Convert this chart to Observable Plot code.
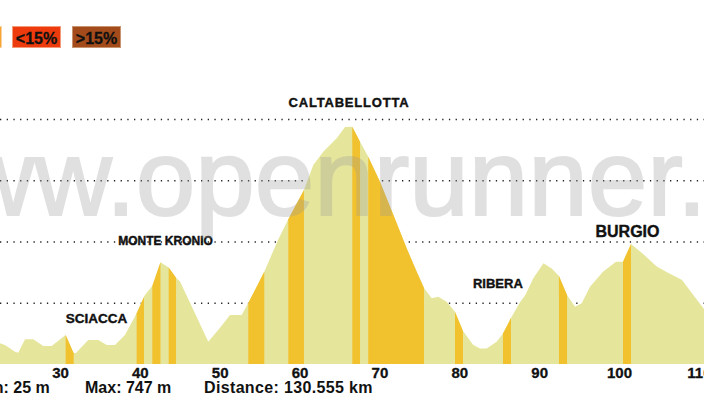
<!DOCTYPE html>
<html><head><meta charset="utf-8">
<script src="https://cdn.jsdelivr.net/npm/d3@7"></script>
<script src="https://cdn.jsdelivr.net/npm/@observablehq/plot@0.6"></script>
<style>
body{margin:0;background:#fff;}
#chart{position:relative;width:704px;height:399px;overflow:hidden;background:#fff;}
</style></head><body><div id="chart"></div>
<script>
// elevation profile (km, m)
const profileKm = [22.24,22.49,23.11,24.37,24.78,25.62,26.66,27.91,28.96,30.71,31.72,32.00,33.54,34.80,35.85,36.89,38.14,39.60,40.52,40.64,41.56,42.58,43.61,44.53,45.03,48.57,50.04,51.29,52.75,53.58,55.58,57.30,58.59,60.55,61.72,62.97,64.65,65.69,66.60,67.57,68.60,70.07,71.74,73.41,74.67,75.58,76.54,77.37,78.42,79.46,80.46,81.75,82.59,83.43,84.68,85.47,86.47,87.60,88.27,89.27,90.54,91.57,92.48,93.49,94.49,95.33,96.37,97.99,99.62,100.50,101.50,102.94,104.72,106.01,107.89,109.39,110.64,111.89];
const profileEle = [72,68,62,40,37,81,81,59,59,95,35,36,78,78,62,62,95,166,219,225,255,332,315,282,269,73,118,160,160,199,301,405,473,568,650,693,737,774,775,726,677,595,487,378,301,248,215,220,203,171,108,62,51,51,73,100,150,202,225,280,329,312,287,225,187,198,252,301,334,334,392,361,318,300,274,222,180,134];
// steep segments (km)
const bandStart = [30.71,39.60,41.56,43.61,53.58,58.59,66.60,68.60,79.46,85.47,92.48,100.50];
const bandEnd   = [31.72,40.52,42.58,44.53,55.58,60.55,67.57,75.58,80.46,86.47,93.49,101.50];
const gridEle = [200,400,600,800];
const tickKm = [30,40,50,60,70,80,90,100,110];
const placeName = ["SCIACCA","MONTE KRONIO","CALTABELLOTTA","RIBERA","BURGIO"];
const placeKm = [34.50,43.15,66.12,84.77,101.0];
const placeEle = [134,389,842,251,415];
const placeSize = [13.5,12,13,13,16];
const legendLabels = ["<15%", ">15%"];
const legendColors = ["#ee3b0d", "#a34b1b"];
const statLabels = ["Min: 25 m", "Max: 747 m", "Distance: 130.555 km"];
const watermark = "www.openrunner.com";

const profile = profileKm.map((km, i) => ({km, ele: profileEle[i]}));
const bandOf = d => { for (let i = 0; i < bandStart.length; i++) if (d.km >= bandStart[i] && d.km <= bandEnd[i]) return i; return null; };
const places = placeName.map((name, i) => ({name, km: placeKm[i], ele: placeEle[i], size: placeSize[i]}));

const FONT = "'Liberation Sans', Arial, sans-serif";
const svg = Plot.plot({
  width: 704, height: 399,
  marginLeft: 0, marginRight: 0, marginTop: 119, marginBottom: 35,
  style: {fontFamily: FONT, background: "#fff", overflow: "visible"},
  x: {domain: [22.49, 110.64], axis: null},
  y: {domain: [0, 800], axis: null},
  marks: [
    Plot.ruleY(gridEle, {stroke: "#222", strokeWidth: 1.3, strokeDasharray: "1.3,5.4"}),
    Plot.areaY(profile, {x: "km", y: "ele", fill: "#e5e59b", clip: true}),
    Plot.areaY(profile, {filter: d => bandOf(d) !== null, x: "km", y: "ele", z: d => bandOf(d), fill: "#f2c12e", clip: true}),
    Plot.text(places, {x: "km", y: "ele", text: "name", fontSize: "size", fontWeight: "bold", lineAnchor: "bottom", fill: "#111", stroke: "#111", strokeWidth: 0.4}),
    Plot.text(tickKm, {x: d => d, frameAnchor: "bottom", dy: 13.5, text: d => String(d), lineAnchor: "bottom", fontSize: 15, fontWeight: "bold", fill: "#111", stroke: "#111", strokeWidth: 0.3})
  ]
});
const root = d3.select(svg);
root.selectAll("text").filter(function() { return this.textContent === "CALTABELLOTTA"; }).style("letter-spacing", "0.8px");
// watermark
root.append("text").attr("x", -120).attr("y", 215).attr("text-anchor", "start").attr("font-family", FONT).attr("font-size", 107)
  .attr("fill", "#9a9a9a").attr("stroke", "#9a9a9a").attr("stroke-width", 2).attr("opacity", 0.3).text(watermark);
// legend
root.append("rect").attr("x", -46.5).attr("y", 26.5).attr("width", 48).attr("height", 21).attr("fill", "#f7a530").attr("stroke", "#fbd3a0");
legendLabels.forEach((t, i) => {
  const x0 = 12.5 + i * 60;
  root.append("rect").attr("x", x0).attr("y", 26.5).attr("width", 48).attr("height", 21)
    .attr("fill", legendColors[i]).attr("stroke", i ? "#c8946f" : "#f49a78");
  root.append("text").attr("x", x0 + 24).attr("y", 44).attr("text-anchor", "middle")
    .attr("font-family", FONT).attr("font-size", 16).attr("font-weight", "bold").attr("fill", "#111")
    .attr("stroke", "#111").attr("stroke-width", 0.3).text(t);
});
// stats
const statX = [-24, 85, 204];
statLabels.forEach((t, i) => {
  root.append("text").attr("x", statX[i]).attr("y", 393).attr("text-anchor", "start").attr("font-family", FONT)
    .attr("font-size", 16).attr("font-weight", "bold").attr("fill", "#111").style("letter-spacing", i === 2 ? "0.35px" : "0px").text(t);
});
document.getElementById("chart").appendChild(svg);
</script></body></html>
